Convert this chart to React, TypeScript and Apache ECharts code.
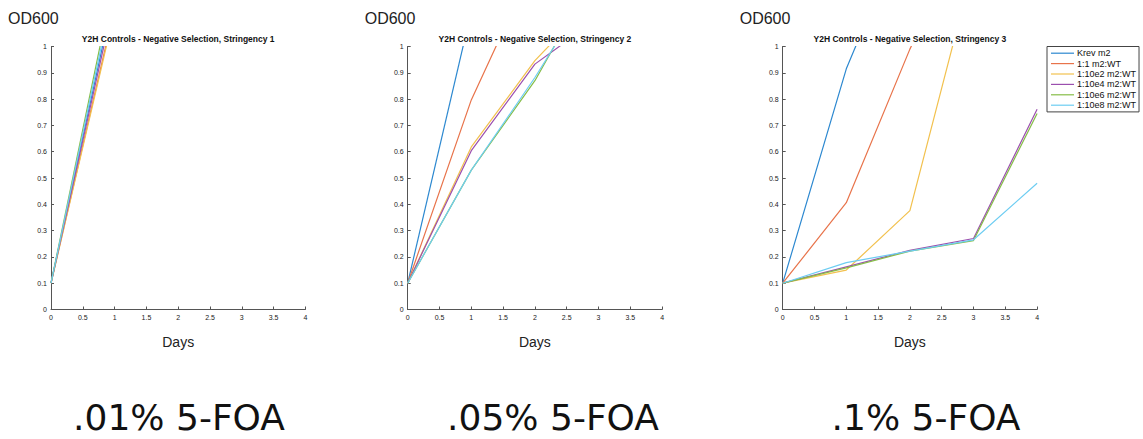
import React, { useEffect, useRef } from "react";
import * as echarts from "echarts";

const days = [0, 1, 2, 3, 4];
const seriesNames = ["Krev m2", "1:1 m2:WT", "1:10e2 m2:WT", "1:10e4 m2:WT", "1:10e6 m2:WT", "1:10e8 m2:WT"];
const colors = ["#2c88d0", "#e8734a", "#f2c14e", "#9b4fae", "#86bd48", "#6dcdf2"];

// Stringency 1 (values beyond 1 are clipped by the axis)
const s1Krev = [0.1, 1.211];
const s1R1 = [0.1, 1.147];
const s1R2 = [0.1, 1.134];
const s1R4 = [0.1, 1.184];
const s1R6 = [0.1, 1.269];
const s1R8 = [0.1, 1.239];

// Stringency 2
const s2Krev = [0.1, 1.134];
const s2R1 = [0.1, 0.797, 1.32];
const s2R2 = [0.1, 0.618, 0.946, 1.2];
const s2R4 = [0.1, 0.604, 0.933, 1.108];
const s2R6 = [0.1, 0.53, 0.87, 1.3];
const s2R8 = [0.1, 0.53, 0.882, 1.27];

// Stringency 3
const s3Krev = [0.1, 0.915, 1.495];
const s3R1 = [0.1, 0.406, 0.99, 1.5];
const s3R2 = [0.1, 0.15, 0.376, 1.308];
const s3R4 = [0.1, 0.162, 0.225, 0.27, 0.761];
const s3R6 = [0.1, 0.158, 0.222, 0.262, 0.745];
const s3R8 = [0.1, 0.178, 0.222, 0.265, 0.48];

const panels = [
  [s1Krev, s1R1, s1R2, s1R4, s1R6, s1R8],
  [s2Krev, s2R1, s2R2, s2R4, s2R6, s2R8],
  [s3Krev, s3R1, s3R2, s3R4, s3R6, s3R8],
];
const titles = [
  "Y2H Controls - Negative Selection, Stringency 1",
  "Y2H Controls - Negative Selection, Stringency 2",
  "Y2H Controls - Negative Selection, Stringency 3",
];
const bottomLabels = [".01% 5-FOA", ".05% 5-FOA", ".1% 5-FOA"];
const yLabel = "OD600";
const xLabel = "Days";

const FONT = "'Liberation Sans', Arial, sans-serif";
const BIGFONT = "'DejaVu Sans', 'Liberation Sans', sans-serif";

export default function App() {
  const ref = useRef<HTMLDivElement>(null);
  useEffect(() => {
    if (!ref.current) return;
    const chart = echarts.init(ref.current, null, { renderer: "svg" });
    const gridLefts = [51, 407.7, 782.7];
    const gridW = 254.4;
    const gridTop = 46.5;
    const gridH = 263;
    const bigCenters = [179, 553, 926];

    const grids = gridLefts.map((l) => ({ left: l, top: gridTop, width: gridW, height: gridH }));
    const axisCommon = {
      axisLine: { show: true, lineStyle: { color: "#555", width: 1 } },
      axisTick: { show: true, inside: true, length: 3, lineStyle: { color: "#555" } },
      axisLabel: { fontSize: 7, color: "#222", fontFamily: FONT, margin: 4 },
      splitLine: { show: false },
    };
    const xAxes = gridLefts.map((_, i) => ({
      type: "value",
      gridIndex: i,
      min: 0,
      max: 4,
      interval: 0.5,
      ...axisCommon,
    }));
    const yAxes = gridLefts.map((_, i) => ({
      type: "value",
      gridIndex: i,
      min: 0,
      max: 1,
      interval: 0.1,
      ...axisCommon,
    }));
    const series: any[] = [];
    panels.forEach((panel, pi) => {
      panel.forEach((vals, si) => {
        series.push({
          type: "line",
          name: seriesNames[si],
          xAxisIndex: pi,
          yAxisIndex: pi,
          data: vals.map((v, k) => [days[k], v]),
          symbol: "none",
          clip: true,
          lineStyle: { width: 1.2, color: colors[si] },
          itemStyle: { color: colors[si] },
        });
      });
    });

    const graphics: any[] = [];
    gridLefts.forEach((l, i) => {
      graphics.push({
        type: "text",
        x: l - 43,
        y: 18,
        style: { text: yLabel, fontSize: 16, fontFamily: FONT, fill: "#222", verticalAlign: "middle", align: "left" },
      });
      graphics.push({
        type: "text",
        x: l + gridW / 2,
        y: 342,
        style: { text: xLabel, fontSize: 14, fontFamily: FONT, fill: "#222", verticalAlign: "middle", align: "center" },
      });
      graphics.push({
        type: "text",
        x: bigCenters[i],
        y: 417,
        style: { text: bottomLabels[i], fontSize: 36, fontFamily: BIGFONT, fill: "#111", verticalAlign: "middle", align: "center" },
      });
    });

    chart.setOption({
      animation: false,
      backgroundColor: "#fff",
      title: gridLefts.map((l, i) => ({
        text: titles[i],
        left: l + gridW / 2,
        top: 34,
        textAlign: "center",
        padding: 0,
        textStyle: { fontSize: 8.5, fontWeight: "bold", color: "#111", fontFamily: FONT },
      })),
      grid: grids,
      xAxis: xAxes,
      yAxis: yAxes,
      legend: {
        data: seriesNames,
        orient: "vertical",
        left: 1047,
        top: 46.5,
        icon: "rect",
        itemWidth: 23,
        itemHeight: 1.2,
        itemGap: 0,
        padding: [1.5, 3, 1.5, 4],
        borderColor: "#444",
        borderWidth: 1,
        backgroundColor: "#fff",
        textStyle: { fontSize: 9, fontFamily: FONT, color: "#111", lineHeight: 10.4, padding: [0, 0, 0, -2] },
      },
      series,
      graphic: graphics,
    });
    return () => chart.dispose();
  }, []);
  return <div ref={ref} style={{ position: "absolute", left: 0, top: 0, width: 1143, height: 439 }} />;
}
